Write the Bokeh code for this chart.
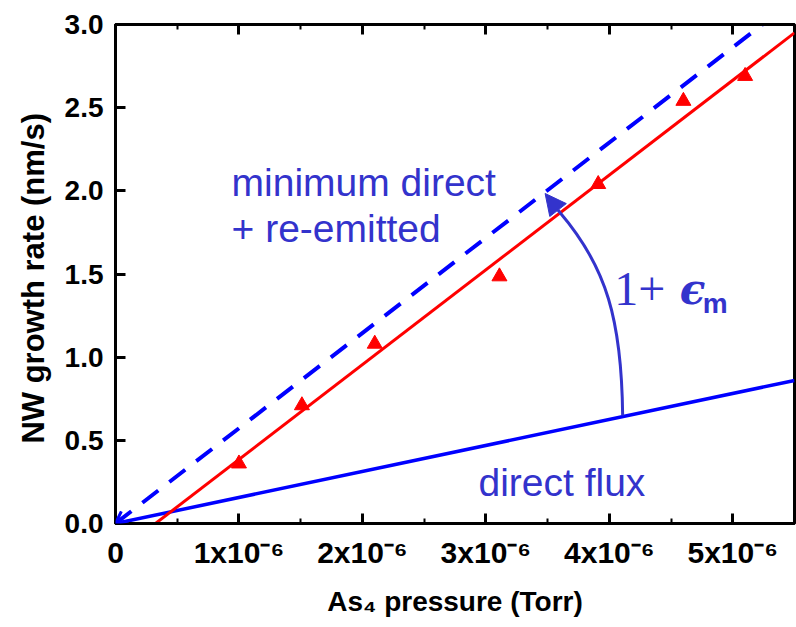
from bokeh.plotting import figure
from bokeh.models import (FixedTicker, LinearAxis, Range1d, Arrow, NormalHead,
                          OpenHead, CustomJSTickFormatter)
from bokeh.core.properties import value
from bokeh.embed import file_html
from bokeh.resources import INLINE

# ---- data ----
pressure = [1.0e-6, 1.51e-6, 2.10e-6, 3.11e-6, 3.91e-6, 4.60e-6, 5.10e-6]   # As4 pressure (Torr)
growth = [0.36, 0.71, 1.08, 1.485, 2.04, 2.54, 2.69]                      # NW growth rate (nm/s)

fit_x = [0.324e-6, 5.5e-6]          # linear fit of the measured points
fit_y = [0.0, 2.95]
min_x = [0.0, 5.24e-6]              # minimum direct + re-emitted
min_y = [0.0, 3.0]
direct_x = [0.0, 5.5e-6]            # direct flux
direct_y = [0.0, 0.86]

# curved arrow (1 + eps_m), bezier start/end/controls
arc_start = (4.108e-6, 0.649)
arc_c0 = (4.10e-6, 1.22)
arc_c1 = (3.98e-6, 1.54)
arc_end = (3.60e-6, 1.87)
arc_tip = (3.48e-6, 1.984)

x_ticks = [0.0, 1e-6, 2e-6, 3e-6, 4e-6, 5e-6]
x_minor = [0.5e-6, 1.5e-6, 2.5e-6, 3.5e-6, 4.5e-6, 5.5e-6]
y_ticks = [0.0, 0.5, 1.0, 1.5, 2.0, 2.5, 3.0]

RED = "#ff0000"
BLUE = "#0000ff"
TXT = "#3333cc"
FONT = "Liberation Sans"

p = figure(width=796, height=627, x_range=Range1d(0, 5.5e-6), y_range=Range1d(0, 3.0),
           output_backend="svg", toolbar_location=None,
           min_border_left=115, min_border_right=2, min_border_top=24, min_border_bottom=104)
p.xgrid.visible = False
p.ygrid.visible = False
p.outline_line_color = "black"
p.outline_line_width = 3
p.background_fill_color = "white"
p.border_fill_color = "white"


def style_axis(ax):
    ax.axis_line_width = 3
    ax.axis_line_color = "black"
    ax.major_tick_line_width = 3
    ax.major_tick_in = 10
    ax.major_tick_out = 0
    ax.minor_tick_line_width = 2
    ax.minor_tick_in = 5
    ax.minor_tick_out = 0
    ax.major_label_text_font = FONT
    ax.major_label_text_font_style = "bold"
    ax.major_label_text_font_size = "28px"
    ax.major_label_text_color = "black"
    ax.axis_label_text_font = FONT
    ax.axis_label_text_font_style = "bold"
    ax.axis_label_text_font_size = "28px"
    ax.axis_label_text_color = "black"


xa = p.xaxis[0]
style_axis(xa)
xa.ticker = FixedTicker(ticks=x_ticks, minor_ticks=x_minor)
xa.formatter = CustomJSTickFormatter(
    code="var n = Math.round(tick*1e6); return n == 0 ? '0' : n + 'x10\u207b\u2076';")
xa.major_label_text_font_size = "30px"
xa.major_label_standoff = 12
xa.axis_label = "As\u2084 pressure (Torr)"
xa.axis_label_standoff = 14

ya = p.yaxis[0]
style_axis(ya)
ya.ticker = FixedTicker(ticks=y_ticks, minor_ticks=[])
ya.formatter = CustomJSTickFormatter(code="return tick.toFixed(1);")
ya.major_label_standoff = 12
ya.axis_label = "NW growth rate  (nm/s)"
ya.axis_label_text_font_size = "31px"
ya.axis_label_standoff = 11

top = LinearAxis(ticker=FixedTicker(ticks=x_ticks, minor_ticks=x_minor),
                 formatter=CustomJSTickFormatter(code="return '';"))
style_axis(top)
top.major_label_standoff = 0
top.major_label_text_font_size = "1px"
p.add_layout(top, "above")

# lines
p.line(direct_x, direct_y, line_color=BLUE, line_width=3.5)
p.line(min_x, min_y, line_color=BLUE, line_width=4, line_dash="20 14")
p.line(fit_x, fit_y, line_color=RED, line_width=3)
p.scatter(pressure, growth, marker="triangle", size=15, fill_color=RED, line_color=RED)

# open arrow head at origin on the dashed line
p.add_layout(Arrow(end=OpenHead(size=12, line_color=BLUE, line_width=3),
                   x_start=0.25e-6, y_start=0.143, x_end=0.0, y_end=0.0,
                   line_alpha=0))

# curved arrow
p.bezier(x0=[arc_start[0]], y0=[arc_start[1]], x1=[arc_end[0]], y1=[arc_end[1]],
         cx0=[arc_c0[0]], cy0=[arc_c0[1]], cx1=[arc_c1[0]], cy1=[arc_c1[1]],
         line_color=TXT, line_width=3)
p.add_layout(Arrow(end=NormalHead(size=21, fill_color=TXT, line_color=TXT, line_width=1),
                   x_start=arc_end[0], y_start=arc_end[1], x_end=arc_tip[0], y_end=arc_tip[1],
                   line_color=TXT, line_width=3))

# annotations
p.text(x=[0.94e-6, 0.94e-6], y=[2.05, 1.774], text=["minimum direct", "+ re-emitted"],
       text_font=value(FONT), text_font_size="39px", text_color=TXT,
       text_align="left", text_baseline="alphabetic")
p.text(x=[2.94e-6], y=[0.247], text=["direct flux"],
       text_font=value(FONT), text_font_size="39px", text_color=TXT,
       text_align="left", text_baseline="alphabetic")
p.text(x=[4.04e-6], y=[1.407], text=["1+"],
       text_font=value("Liberation Serif"), text_font_size="48px", text_color=TXT,
       text_align="left", text_baseline="alphabetic")
p.text(x=[4.57e-6], y=[1.407], text=["\u03f5"],
       text_font=value("DejaVu Serif"), text_font_size="42px", text_font_style="bold italic",
       text_color=TXT, text_align="left", text_baseline="alphabetic")
p.text(x=[4.757e-6], y=[1.323], text=["m"],
       text_font=value(FONT), text_font_size="28px", text_font_style="bold",
       text_color=TXT, text_align="left", text_baseline="alphabetic")

open("out.html", "w").write(file_html(p, INLINE))
